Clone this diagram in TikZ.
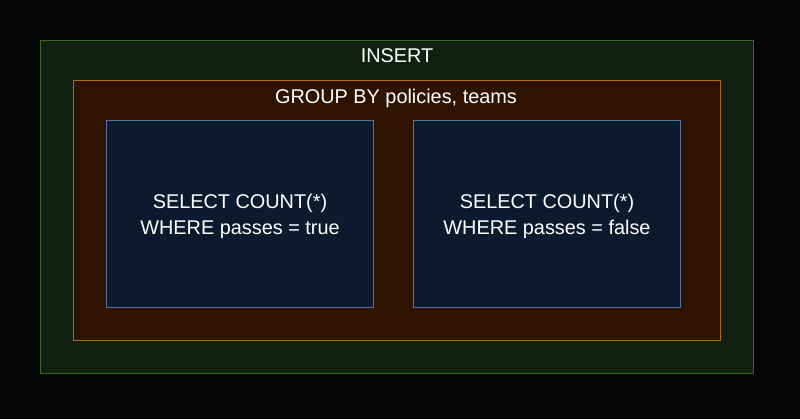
\documentclass[tikz,border=0pt]{standalone}
\usepackage{fontspec}
\setmainfont{Liberation Sans}
\usetikzlibrary{positioning}
\definecolor{bgblack}{HTML}{050505}
\definecolor{insfill}{HTML}{0F2010}
\definecolor{insline}{HTML}{3A6A1E}
\definecolor{grpfill}{HTML}{2D1300}
\definecolor{grpline}{HTML}{B06A10}
\definecolor{selfill}{HTML}{0C1A2E}
\definecolor{selline}{HTML}{5572A6}
\tikzset{
  box/.style={draw, line width=0.75pt, inner sep=0pt, anchor=north west},
  lbl/.style={text=white, font=\fontsize{14.9}{19.5}\selectfont, align=center}
}
\begin{document}
\begin{tikzpicture}[x=0.75pt,y=-0.75pt]
  \fill[bgblack] (0,0) rectangle (800,419);
  \useasboundingbox (0,0) rectangle (800,419);
  % insert
  \node[box, draw=insline, fill=insfill, minimum width=713*0.75pt, minimum height=333*0.75pt] (insert) at (40,40) {};
  \node[lbl] (insertlbl) at (397,56) {INSERT};
  % group by
  \node[box, draw=grpline, fill=grpfill, minimum width=647*0.75pt, minimum height=260*0.75pt] (group) at (73,80) {};
  \node[lbl] (grouplbl) at (396,98) {GROUP BY policies, teams};
  % selects
  \node[box, draw=selline, fill=selfill, minimum width=267*0.75pt, minimum height=187*0.75pt] (seltrue) at (106,120) {};
  \node[box, draw=selline, fill=selfill, minimum width=267*0.75pt, minimum height=187*0.75pt] (selfalse) at (413,120) {};
  \node[lbl] at ([yshift=-1.5pt]seltrue.center) {SELECT COUNT(*)\\WHERE passes = true};
  \node[lbl] at ([yshift=-1.5pt]selfalse.center) {SELECT COUNT(*)\\WHERE passes = false};
\end{tikzpicture}
\end{document}
